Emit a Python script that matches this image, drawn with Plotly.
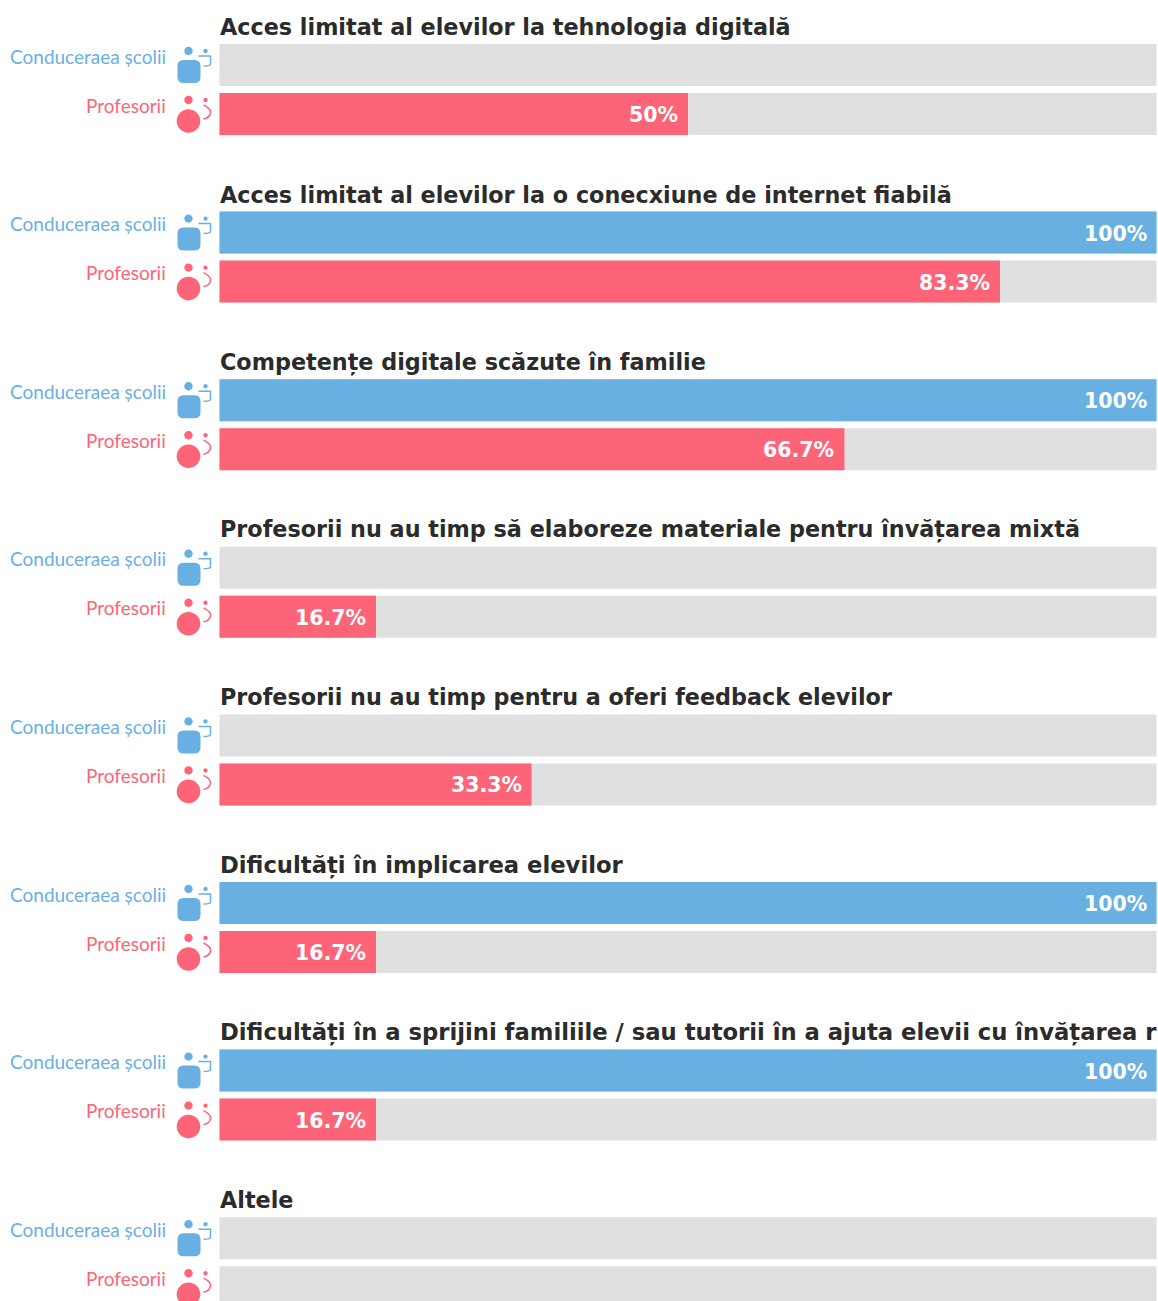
import plotly.graph_objects as go

TITLES = [
    "Acces limitat al elevilor la tehnologia digitală",
    "Acces limitat al elevilor la o conecxiune de internet fiabilă",
    "Competențe digitale scăzute în familie",
    "Profesorii nu au timp să elaboreze materiale pentru învățarea mixtă",
    "Profesorii nu au timp pentru a oferi feedback elevilor",
    "Dificultăți în implicarea elevilor",
    "Dificultăți în a sprijini familiile / sau tutorii în a ajuta elevii cu învățarea r",
    "Altele",
]
LEADERS = [None, 100, 100, None, None, 100, 100, None]
TEACHERS = [50, 83.3, 66.7, 16.7, 33.3, 16.7, 16.7, None]
SERIES_NAMES = ["Conducerea școlii", "Profesori"]
SERIES_LABELS = ["Conduceraea școlii", "Profesorii"]

BLUE = "#69b0e2"
RED = "#fe6477"
GREY = "#e0e0e0"
W, H = 1158, 1301
X0, X1 = 219.5, 1156.5  # pixels of 0 and 100 on the value axis
ROW = 49                # pixels per y unit
Y0 = 65                 # pixel of first row
PITCH = 167.6 / ROW

row_y = []
for g in range(len(TITLES)):
    row_y += [g * PITCH, g * PITCH + 1]
leader_y = row_y[0::2]
teacher_y = row_y[1::2]

px_per_x = (X1 - X0) / 100
xrange_ = [-X0 / px_per_x, (W - X0) / px_per_x]
yrange = [(H - Y0) / ROW, -Y0 / ROW]

fig = go.Figure()
bw = 42 / ROW
fig.add_bar(y=row_y, x=[100] * len(row_y), orientation="h", width=bw,
            marker=dict(color=GREY, line_width=0), showlegend=False, hoverinfo="skip")
fig.add_bar(y=leader_y, x=LEADERS, orientation="h", width=bw, name=SERIES_NAMES[0],
            marker=dict(color=BLUE, line_width=0), showlegend=False)
fig.add_bar(y=teacher_y, x=TEACHERS, orientation="h", width=bw, name=SERIES_NAMES[1],
            marker=dict(color=RED, line_width=0), showlegend=False)

ann = []
shapes = []
for t, y in zip(TITLES, leader_y):
    size = 22.7 if t.startswith("Dificult") else 22.3
    ann.append(dict(x=0, y=y, xref="x", yref="y", text=t, showarrow=False, xanchor="left",
                    yanchor="middle", yshift=38, xshift=-2,
                    font=dict(family="DejaVu Sans", size=size, color="#2b2b2b", weight="bold")))

for vals, ys in ((LEADERS, leader_y), (TEACHERS, teacher_y)):
    for v, y in zip(vals, ys):
        if v is not None:
            ann.append(dict(x=v, y=y, xref="x", yref="y", text=f"{v:g}%", showarrow=False,
                            xanchor="right", yanchor="middle", xshift=-8, yshift=-1,
                            font=dict(family="DejaVu Sans", size=20.5, color="white", weight="bold")))


def circle(cx, cy, r):
    k = 0.5523 * r
    y = -cy
    return (f"M {cx-r} {y} C {cx-r} {y+k} {cx-k} {y+r} {cx} {y+r} "
            f"C {cx+k} {y+r} {cx+r} {y+k} {cx+r} {y} "
            f"C {cx+r} {y-k} {cx+k} {y-r} {cx} {y-r} "
            f"C {cx-k} {y-r} {cx-r} {y-k} {cx-r} {y} Z")


def rrect(x0, y0, x1, y1, r):
    return (f"M {x0+r} {-y0} L {x1-r} {-y0} Q {x1} {-y0} {x1} {-y0-r} L {x1} {-y1+r} "
            f"Q {x1} {-y1} {x1-r} {-y1} L {x0+r} {-y1} Q {x0} {-y1} {x0} {-y1+r} "
            f"L {x0} {-y0-r} Q {x0} {-y0} {x0+r} {-y0} Z")


def flip(path):
    tok = path.split()
    res, i = [], 0
    while i < len(tok):
        if tok[i].isalpha():
            res.append(tok[i]); i += 1
        else:
            res += [tok[i], str(-float(tok[i + 1]))]; i += 2
    return " ".join(res)


def icon(y, color, kind):
    common = dict(type="path", xref="x", yref="y", xsizemode="pixel", ysizemode="pixel",
                  xanchor=0, yanchor=y, layer="above")
    fill = dict(fillcolor=color, line=dict(width=0))
    out = [dict(path=circle(-31, -14, 4.2), **common, **fill),
           dict(path=circle(-14, -14, 2.2), **common, **fill)]
    if kind == 0:
        out.append(dict(path=rrect(-42, -5, -19, 18, 6), **common, **fill))
        arc = "M -21 -9 L -9 -9 L -9 -1 Q -9 1 -16 1"
    else:
        out.append(dict(path=circle(-31, 7, 11.8), **common, **fill))
        arc = "M -16 -9 Q -8 -5 -9 -1 Q -10 4 -16 5"
    out.append(dict(path=flip(arc), fillcolor="rgba(0,0,0,0)",
                    line=dict(color=color, width=1.5), **common))
    return out


for k, ys in enumerate((leader_y, teacher_y)):
    color = (BLUE, RED)[k]
    for y in ys:
        ann.append(dict(x=0, y=y, xref="x", yref="y", text=SERIES_LABELS[k], showarrow=False,
                        xanchor="right", yanchor="middle", xshift=-52, yshift=9,
                        font=dict(family="Lato", size=19, color=color, weight=400)))
        shapes += icon(y, color, k)

fig.update_layout(
    width=W, height=H, margin=dict(l=0, r=0, t=0, b=0), barmode="overlay",
    paper_bgcolor="white", plot_bgcolor="white", annotations=ann, shapes=shapes,
    xaxis=dict(range=xrange_, visible=False, fixedrange=True),
    yaxis=dict(range=yrange, visible=False, fixedrange=True),
)
fig.write_html("out.html", config={"displayModeBar": False},
               post_script="document.body.style.margin='0';document.body.style.overflow='hidden';")
